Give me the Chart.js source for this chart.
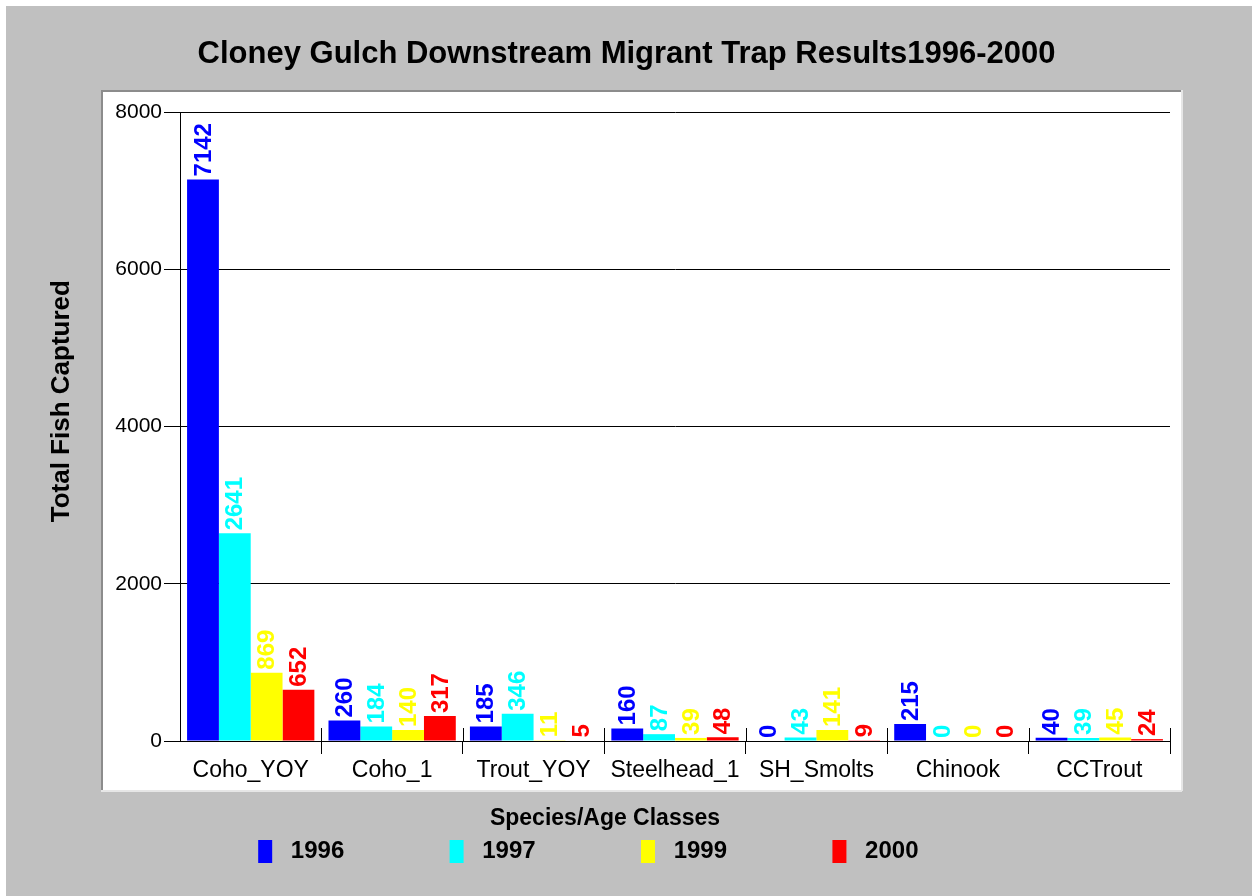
<!DOCTYPE html>
<html>
<head>
<meta charset="utf-8">
<script src="https://cdn.jsdelivr.net/npm/chart.js@4"></script>
<style>
  body { margin: 0; background: #fff; }
  #chart { display: block; margin: 6px 0 0 6px; background: #c0c0c0; }
</style>
</head>
<body>
<canvas id="chart" width="1246" height="890"></canvas>
<script>
const categories = ["Coho_YOY", "Coho_1", "Trout_YOY", "Steelhead_1", "SH_Smolts", "Chinook", "CCTrout"];
const years = ["1996", "1997", "1999", "2000"];
const counts1996 = [7142, 260, 185, 160, 0, 215, 40];
const counts1997 = [2641, 184, 346, 87, 43, 0, 39];
const counts1999 = [869, 140, 11, 39, 141, 0, 45];
const counts2000 = [652, 317, 5, 48, 9, 0, 24];
const colors = ["#0000ff", "#00ffff", "#ffff00", "#ff0000"];
const yTicks = [0, 2000, 4000, 6000, 8000];

const FONT = "'Liberation Sans', Arial, sans-serif";
const series = [counts1996, counts1997, counts1999, counts2000];

// white plot panel behind the axes
const panelPlugin = {
  id: "panel",
  beforeDraw(chart) {
    const { ctx, chartArea } = chart;
    const x0 = chartArea.left - 79, y0 = chartArea.top - 22;
    const x1 = chartArea.right + 12, y1 = chartArea.bottom + 50;
    ctx.save();
    ctx.fillStyle = "#fff";
    ctx.fillRect(x0, y0, x1 - x0, y1 - y0);
    ctx.fillStyle = "#8c8c8c";
    ctx.fillRect(x0, y0, x1 - x0, 2);
    ctx.fillRect(x0, y0, 2, y1 - y0);
    ctx.fillStyle = "#e6e6e6";
    ctx.fillRect(x0, y1 - 1, x1 - x0, 2);
    ctx.fillRect(x1 - 1, y0, 2, y1 - y0);
    ctx.restore();
  }
};

// vertical value labels above each bar, and the upper half of the x tick marks
const valueLabels = {
  id: "valueLabels",
  afterDatasetsDraw(chart) {
    const { ctx } = chart;
    const x = chart.scales.x;
    const half = (x.getPixelForValue(1) - x.getPixelForValue(0)) / 2;
    ctx.save();
    ctx.strokeStyle = "#000";
    ctx.lineWidth = 1;
    ctx.beginPath();
    for (let i = 1; i <= categories.length; i++) {
      const px = Math.round(x.getPixelForValue(i - 1) + half) + 0.5;
      ctx.moveTo(px, x.top - 13);
      ctx.lineTo(px, x.top);
    }
    ctx.stroke();

    ctx.font = "bold 24px " + FONT;
    ctx.textAlign = "left";
    ctx.textBaseline = "middle";
    chart.data.datasets.forEach((ds, i) => {
      chart.getDatasetMeta(i).data.forEach((bar, j) => {
        ctx.save();
        ctx.translate(bar.x, bar.y - 3);
        ctx.rotate(-Math.PI / 2);
        ctx.fillStyle = ds.backgroundColor;
        ctx.fillText(String(ds.data[j]), 0, 1);
        ctx.restore();
      });
    });
    ctx.restore();
  }
};

new Chart(document.getElementById("chart"), {
  type: "bar",
  data: {
    labels: categories,
    datasets: years.map((y, i) => ({
      label: y,
      data: series[i],
      backgroundColor: colors[i],
      borderWidth: 0,
      barPercentage: 1,
      categoryPercentage: 0.9
    }))
  },
  options: {
    responsive: false,
    animation: false,
    layout: { padding: { left: 34, right: 82, top: 0, bottom: 22.5 } },
    scales: {
      x: {
        afterFit: s => { s.height = 43.6; },
        grid: {
          drawOnChartArea: false,
          tickLength: 13,
          color: c => c.index === 0 ? "rgba(0,0,0,0)" : "#000"
        },
        border: { color: "#000" },
        ticks: { color: "#000", padding: 3, font: { family: FONT, size: 23 } }
      },
      y: {
        min: 0,
        max: 8000,
        afterBuildTicks: s => { s.ticks = yTicks.map(v => ({ value: v })); },
        afterFit: s => { s.width = 140; },
        grid: { color: "#000", tickLength: 16 },
        border: { color: "#000" },
        ticks: { color: "#000", padding: 2, font: { family: FONT, size: 21 }, callback: v => String(v) },
        title: {
          display: true,
          text: "       Total Fish Captured",
          color: "#000",
          padding: { top: 6.4, bottom: 0 },
          font: { family: FONT, size: 26, weight: "bold" }
        }
      }
    },
    plugins: {
      title: {
        display: true,
        text: "     Cloney Gulch Downstream Migrant Trap Results1996-2000",
        color: "#000",
        padding: { top: 30, bottom: 38.8 },
        font: { family: FONT, size: 31, weight: "bold" }
      },
      subtitle: {
        display: true,
        position: "bottom",
        weight: 500,
        text: "Species/Age Classes",
        color: "#000",
        padding: { top: 24.5, bottom: 0 },
        font: { family: FONT, size: 23, weight: "bold", lineHeight: 0.8 }
      },
      legend: {
        position: "bottom",
        labels: {
          color: "#000",
          boxWidth: 14,
          boxHeight: 23,
          padding: 12,
          font: { family: FONT, size: 24, weight: "bold", lineHeight: 1 },
          generateLabels: chart => chart.data.datasets.map((ds, i) => ({
            text: " " + ds.label + " ".repeat(i === 3 ? 5 : 14),
            fillStyle: ds.backgroundColor,
            strokeStyle: ds.backgroundColor,
            lineWidth: 0,
            datasetIndex: i
          }))
        }
      },
      tooltip: { enabled: false }
    }
  },
  plugins: [panelPlugin, valueLabels]
});
</script>
</body>
</html>
